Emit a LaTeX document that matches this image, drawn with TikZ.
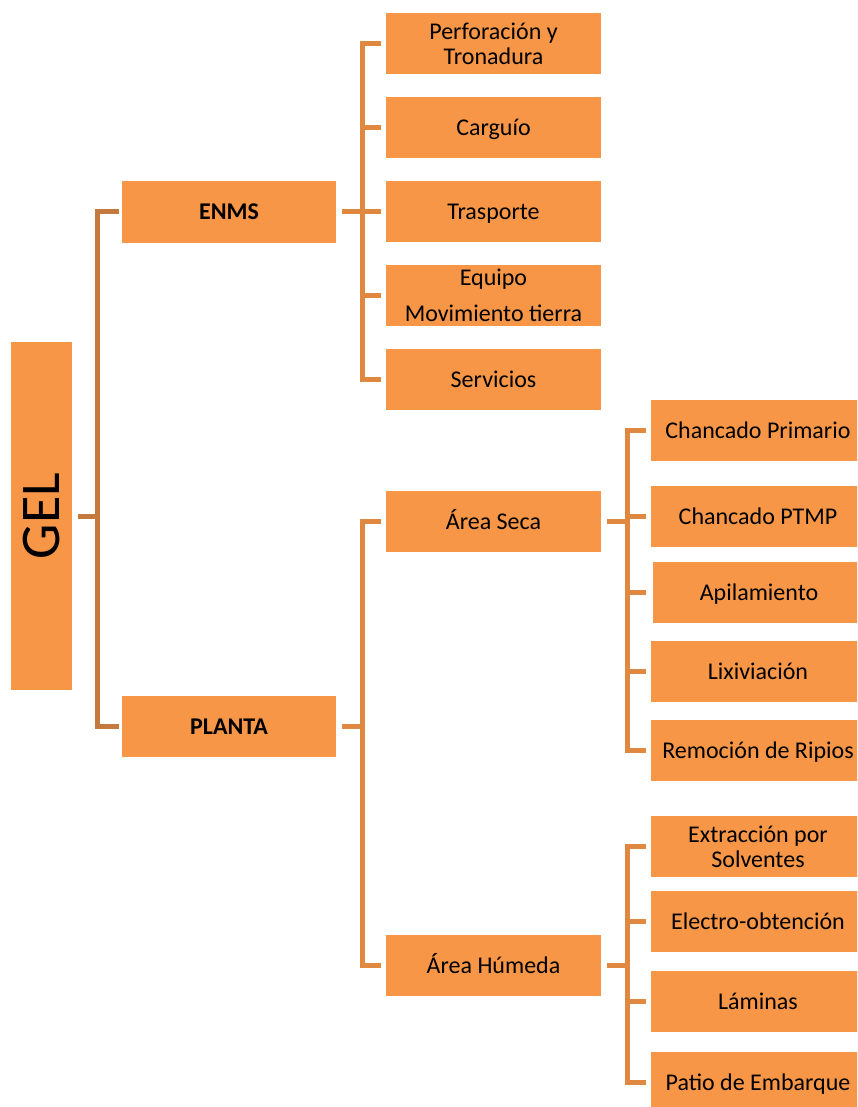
\documentclass[tikz,border=0pt]{standalone}
\usepackage{fontspec}
\setmainfont{Carlito}
\definecolor{boxfill}{HTML}{F79646}
\definecolor{rootline}{HTML}{C47A3E}
\definecolor{branchline}{HTML}{E0883F}
\begin{document}
\begin{tikzpicture}[x=1pt,y=-1pt,
  box/.style={fill=boxfill,draw=none,inner sep=0pt,align=center,font=\fontsize{24}{25}\selectfont},
  single/.style={text height=18pt,text depth=2pt},
  lvlone/.style={box,single,minimum width=214,minimum height=61,font=\fontsize{24}{25}\selectfont\bfseries},
  lvltwo/.style={box,minimum width=215,minimum height=61},
  lvlthree/.style={box,minimum width=214,minimum height=61},
  rootlink/.style={draw=rootline,line width=5pt},
  link/.style={draw=branchline,line width=5pt}]
\useasboundingbox (0,0) rectangle (857,1107);
\clip (0,0) rectangle (857,1107);

% root
\node[box,minimum width=61,minimum height=348,font=\fontsize{56}{60}\selectfont] (gel) at (41.5,516) {\rotatebox{90}{GEL}};

% first level
\node[lvlone] (enms) at (229,212) {ENMS};
\node[lvlone] (planta) at (229,726.5) {PLANTA};

% ENMS branch
\node[lvltwo] (perf) at (493.5,43.5) {Perforación y\\Tronadura};
\node[lvltwo,single] (carg) at (493.5,127.5) {Carguío};
\node[lvltwo,single] (tras) at (493.5,211.5) {Trasporte};
\node[lvltwo,font=\fontsize{24}{36}\selectfont] (equi) at (493.5,295.5) {Equipo\\Movimiento tierra};
\node[lvltwo,single] (serv) at (493.5,379.5) {Servicios};

% PLANTA branch
\node[lvltwo,single] (seca) at (493.5,521.5) {Área Seca};
\node[lvltwo,single] (hume) at (493.5,965.5) {Área Húmeda};

% dry area (boxes run past the right edge)
\node[lvlthree,single] (chp) at (758,430.5) {Chancado Primario};
\node[lvlthree,single] (chptmp) at (758,516.5) {Chancado PTMP};
\node[lvlthree,single,minimum width=212] (api) at (759,592) {Apilamiento};
\node[lvlthree,single] (lix) at (758,671.5) {Lixiviación};
\node[lvlthree,single] (rem) at (758,750.5) {Remoción de Ripios};

% wet area
\node[lvlthree] (ext) at (758,846.5) {Extracción por\\Solventes};
\node[lvlthree,single] (elec) at (758,921.5) {Electro-obtención};
\node[lvlthree,single] (lam) at (758,1001.5) {Láminas};
\node[lvlthree,single] (pat) at (758,1082) {Patio de Embarque};

% root connectors
\coordinate (rootbus) at (97,0);
\draw[rootlink] ([xshift=6pt]gel.east) -- (rootbus |- gel.east);
\draw[rootlink] ([xshift=-3pt]enms.west) -| (rootbus |- planta.west) -- ([xshift=-3pt]planta.west);

% ENMS connectors
\coordinate (enmsbus) at (362,0);
\draw[link] ([xshift=6pt]enms.east) -- (enmsbus |- enms.east);
\draw[link] ([xshift=-5pt]perf.west) -| (enmsbus |- serv.west) -- ([xshift=-5pt]serv.west);
\foreach \n in {carg,tras,equi}
  \draw[link] (enmsbus |- \n.west) -- ([xshift=-5pt]\n.west);

% PLANTA connectors
\draw[link] ([xshift=6pt]planta.east) -- (enmsbus |- planta.east);
\draw[link] ([xshift=-5pt]seca.west) -| (enmsbus |- hume.west) -- ([xshift=-5pt]hume.west);

% dry area connectors
\coordinate (areabus) at (627,0);
\draw[link] ([xshift=6pt]seca.east) -- (areabus |- seca.east);
\draw[link] ([xshift=-5pt]chp.west) -| (areabus |- rem.west) -- ([xshift=-5pt]rem.west);
\foreach \n in {chptmp,lix}
  \draw[link] (areabus |- \n.west) -- ([xshift=-5pt]\n.west);
\draw[link] (areabus |- api.west) -- ([xshift=-7pt]api.west);

% wet area connectors
\draw[link] ([xshift=6pt]hume.east) -- (areabus |- hume.east);
\draw[link] ([xshift=-5pt]ext.west) -| (areabus |- pat.west) -- ([xshift=-5pt]pat.west);
\foreach \n in {elec,lam}
  \draw[link] (areabus |- \n.west) -- ([xshift=-5pt]\n.west);
\end{tikzpicture}
\end{document}
